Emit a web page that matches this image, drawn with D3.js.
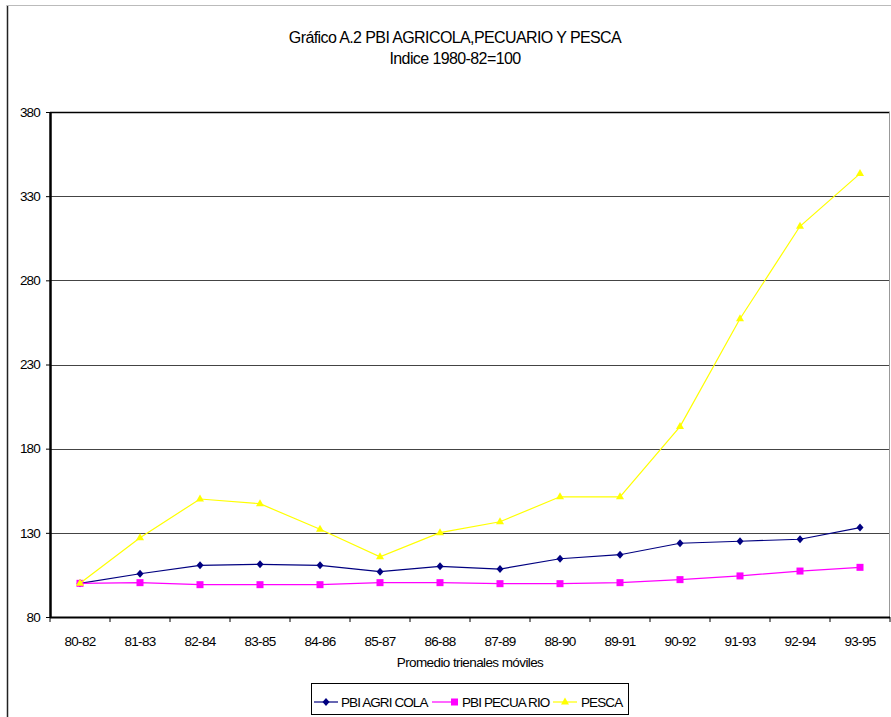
<!DOCTYPE html>
<html>
<head>
<meta charset="utf-8">
<script src="https://cdn.jsdelivr.net/npm/d3@7"></script>
<style>
  html, body { margin: 0; padding: 0; background: #fff; }
  svg { display: block; font-family: "Liberation Sans", Arial, sans-serif; }
</style>
</head>
<body>
<svg id="chart" width="891" height="717"></svg>
<script>
const categories = ["80-82","81-83","82-84","83-85","84-86","85-87","86-88","87-89","88-90","89-91","90-92","91-93","92-94","93-95"];
const agricola  = [100, 105.7, 110.7, 111.3, 110.7, 106.9, 110.1, 108.5, 114.6, 117.0, 123.8, 125.0, 126.2, 133.1];
const pecuario  = [100, 100.4, 99.2, 99.2, 99.2, 100.4, 100.4, 99.8, 99.8, 100.4, 102.2, 104.4, 107.3, 109.5];
const pesca     = [100, 127.1, 150.1, 147.3, 132.1, 115.8, 130.1, 136.6, 151.4, 151.4, 193.1, 257.2, 312.1, 343.4];
const yTicks    = [80, 130, 180, 230, 280, 330, 380];
const seriesNames = ["PBI AGRI COLA", "PBI PECUA RIO", "PESCA"];
const seriesColors = ["#000080", "#ff00ff", "#ffff00"];
const seriesMarkers = ["diamond", "square", "triangle"];
const titleLines = ["Gráfico A.2 PBI AGRICOLA,PECUARIO Y PESCA", "Indice 1980-82=100"];
const xTitle = "Promedio trienales móviles";

(function () {
const svg = d3.select("#chart");
const pLeft = 50, pRight = 890, pTop = 112, pBottom = 617;
const FONT = "Liberation Sans, Arial, sans-serif";

const x = d3.scaleBand().domain(categories).range([pLeft, pRight]).padding(0);
const y = d3.scaleLinear().domain([80, 380]).range([pBottom, pTop]);

// outer chart border (left and top)
svg.append("line").attr("x1", 7.5).attr("x2", 7.5).attr("y1", 5).attr("y2", 717)
  .attr("stroke", "#222").attr("stroke-width", 1.5);
svg.append("line").attr("x1", 7).attr("x2", 891).attr("y1", 5.5).attr("y2", 5.5)
  .attr("stroke", "#bbb").attr("stroke-width", 1);

// title
svg.append("text").attr("x", 455).attr("y", 43).attr("text-anchor", "middle")
  .attr("font-size", 16).attr("letter-spacing", -0.6).text(titleLines[0]);
svg.append("text").attr("x", 455).attr("y", 64).attr("text-anchor", "middle")
  .attr("font-size", 16).attr("letter-spacing", -0.6).text(titleLines[1]);

// gridlines
svg.append("g").selectAll("line").data(yTicks.filter(d => d > 80)).join("line")
  .attr("x1", pLeft).attr("x2", pRight)
  .attr("y1", d => Math.round(y(d)) + 0.5).attr("y2", d => Math.round(y(d)) + 0.5)
  .attr("stroke", d => d === 380 ? "#000" : "#444").attr("stroke-width", d => d === 380 ? 1.5 : 1.2);

// right plot border
svg.append("line").attr("x1", pRight - 0.5).attr("x2", pRight - 0.5).attr("y1", pTop).attr("y2", pBottom)
  .attr("stroke", "#999").attr("stroke-width", 1);

// y axis
const yAxis = d3.axisLeft(y).tickValues(yTicks).tickSize(4).tickPadding(6);
const gy = svg.append("g").attr("transform", `translate(${pLeft},0)`).call(yAxis);
gy.select(".domain").attr("stroke", "#000").attr("stroke-width", 2.5).attr("d", `M0.5,${pTop}V${pBottom}`);
gy.selectAll(".tick line").attr("stroke", "#000");
gy.selectAll(".tick text").attr("font-size", 13.5).attr("letter-spacing", -0.8)
  .attr("font-family", FONT).attr("fill", "#000");

// x axis
const xAxis = d3.axisBottom(x).tickSize(0).tickPadding(19);
const gx = svg.append("g").attr("transform", `translate(0,${pBottom})`).call(xAxis);
gx.select(".domain").attr("stroke", "#000").attr("stroke-width", 2).attr("d", `M${pLeft},0.5H${pRight}`);
gx.selectAll(".tick text").attr("font-size", 13.5).attr("letter-spacing", -0.7)
  .attr("font-family", FONT).attr("fill", "#000");
const bounds = categories.map(c => x(c)).concat([pRight]);
gx.append("g").selectAll("line").data(bounds).join("line")
  .attr("x1", d => d).attr("x2", d => d).attr("y1", 0).attr("y2", 5).attr("stroke", "#000");

svg.append("text").attr("x", 470).attr("y", 667).attr("text-anchor", "middle")
  .attr("font-size", 13.5).attr("letter-spacing", -0.6).text(xTitle);

// series
const allSeries = [agricola, pecuario, pesca];
const cx = i => x(categories[i]) + x.bandwidth() / 2;
const line = d3.line().x((d, i) => cx(i)).y(d => y(d));

function marker(g, type, color, px, py) {
  if (type === "diamond") {
    g.append("path").attr("d", `M${px},${py-4}L${px+3.5},${py}L${px},${py+4}L${px-3.5},${py}Z`).attr("fill", color);
  } else if (type === "square") {
    g.append("rect").attr("x", px - 3.5).attr("y", py - 3.5).attr("width", 7).attr("height", 7).attr("fill", color);
  } else {
    g.append("path").attr("d", `M${px},${py-4.5}L${px+4},${py+2.5}L${px-4},${py+2.5}Z`).attr("fill", color);
  }
}

allSeries.forEach((vals, si) => {
  const g = svg.append("g");
  g.append("path").datum(vals).attr("d", line).attr("fill", "none")
    .attr("stroke", seriesColors[si]).attr("stroke-width", 1.2);
  vals.forEach((v, i) => marker(g, seriesMarkers[si], seriesColors[si], cx(i), y(v)));
});

// legend
const lg = svg.append("g");
lg.append("rect").attr("x", 311.5).attr("y", 683.5).attr("width", 317).attr("height", 31)
  .attr("fill", "#fff").attr("stroke", "#000").attr("stroke-width", 1);
const legendItems = [
  {lx1: 314, lx2: 338, mx: 326, tx: 341},
  {lx1: 432, lx2: 457, mx: 454.5, tx: 462},
  {lx1: 553, lx2: 577, mx: 565, tx: 581}
];
const ly = 702;
legendItems.forEach((it, si) => {
  lg.append("line").attr("x1", it.lx1).attr("x2", it.lx2).attr("y1", ly).attr("y2", ly)
    .attr("stroke", seriesColors[si]).attr("stroke-width", 1.2);
  marker(lg, seriesMarkers[si], seriesColors[si], it.mx, ly);
  lg.append("text").attr("x", it.tx).attr("y", ly + 5).attr("font-size", 13.5)
    .attr("letter-spacing", -0.9).text(seriesNames[si]);
});
})();
</script>
</body>
</html>
